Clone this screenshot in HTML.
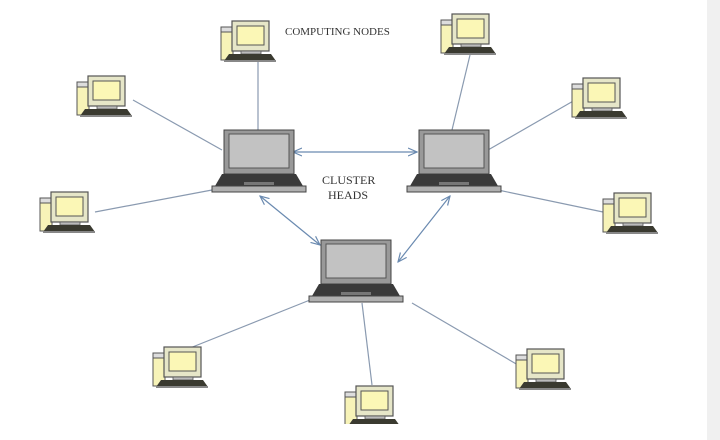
<!DOCTYPE html>
<html><head><style>html,body{margin:0;padding:0;background:#fff}svg{display:block}</style></head>
<body>
<svg width="720" height="440" viewBox="0 0 720 440" xmlns="http://www.w3.org/2000/svg">
<defs>
<g id="pc">
<rect x="0" y="6" width="12" height="33" fill="#f7f3b8" stroke="#555" stroke-width="1"/>
<rect x="0" y="6" width="12" height="5" fill="#ddd" stroke="#555" stroke-width="1"/>
<rect x="11" y="0" width="37" height="30" fill="#e6e6c8" stroke="#555" stroke-width="1.2"/>
<rect x="16" y="5" width="27" height="19" fill="#fbf7b6" stroke="#555" stroke-width="1"/>
<rect x="20" y="30" width="20" height="3" fill="#bbb" stroke="#555" stroke-width="0.8"/>
<polygon points="8,33 50,33 55,40 3,40" fill="#3a3a30"/>
<rect x="3" y="39" width="52" height="2" fill="#888"/>
</g>
<g id="lap">
<rect x="14" y="0" width="70" height="44" fill="#999" stroke="#444" stroke-width="1"/>
<rect x="19" y="4" width="60" height="34" fill="#c2c2c2" stroke="#555" stroke-width="1"/>
<polygon points="12,44 86,44 93,56 5,56" fill="#3a3a3a"/>
<rect x="34" y="52" width="30" height="3" fill="#777"/>
<rect x="2" y="56" width="94" height="6" fill="#b0b0b0" stroke="#444" stroke-width="1"/>
</g>
<marker id="ar" markerWidth="10" markerHeight="10" refX="9" refY="5" orient="auto-start-reverse" markerUnits="userSpaceOnUse">
<path d="M0,1 L9,5 L0,9" fill="none" stroke="#6a8ab0" stroke-width="1.2"/>
</marker>
</defs>
<rect x="707" y="0" width="13" height="440" fill="#f0f0f0"/>
<g stroke="#8a9ab0" stroke-width="1.2">
<line x1="258" y1="62" x2="258" y2="130"/>
<line x1="133" y1="100" x2="222" y2="150"/>
<line x1="95" y1="212" x2="212" y2="190"/>
<line x1="470" y1="55" x2="452" y2="130"/>
<line x1="575" y1="100" x2="488" y2="150"/>
<line x1="603" y1="212" x2="498" y2="190"/>
<line x1="185" y1="350" x2="310" y2="300"/>
<line x1="372" y1="385" x2="362" y2="303"/>
<line x1="518" y1="365" x2="412" y2="303"/>
</g>
<g stroke="#6a8ab0" stroke-width="1.2" marker-start="url(#ar)" marker-end="url(#ar)">
<line x1="293" y1="152" x2="417" y2="152"/>
<line x1="260" y1="196" x2="320" y2="245"/>
<line x1="450" y1="196" x2="398" y2="262"/>
</g>
<use href="#lap" x="210" y="130"/>
<use href="#lap" x="405" y="130"/>
<use href="#lap" x="307" y="240"/>
<use href="#pc" x="221" y="21"/>
<use href="#pc" x="441" y="14"/>
<use href="#pc" x="77" y="76"/>
<use href="#pc" x="572" y="78"/>
<use href="#pc" x="40" y="192"/>
<use href="#pc" x="603" y="193"/>
<use href="#pc" x="153" y="347"/>
<use href="#pc" x="516" y="349"/>
<use href="#pc" x="345" y="386"/>
<rect x="330" y="424" width="90" height="16" fill="#fff"/>
<g font-family="Liberation Serif, serif" fill="#333" font-size="11">
<text x="285" y="35">COMPUTING NODES</text>
<text x="322" y="184" font-size="12">CLUSTER</text>
<text x="328" y="199" font-size="12">HEADS</text>
</g>
</svg>
</body></html>
